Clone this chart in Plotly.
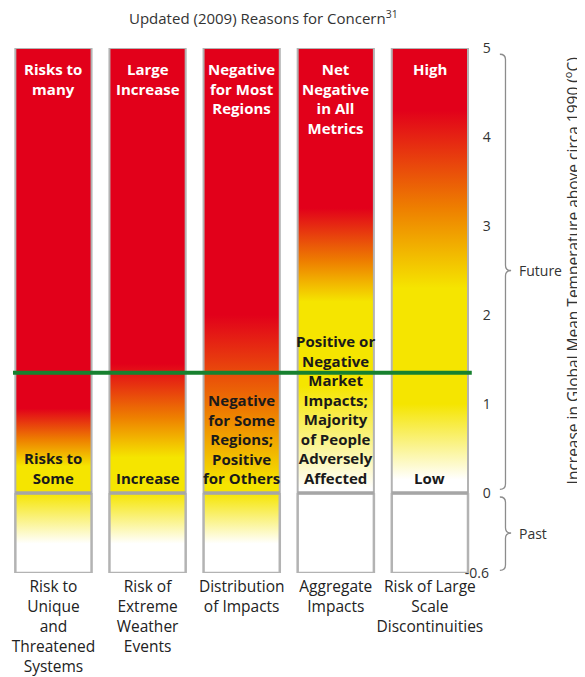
import plotly.graph_objects as go
from plotly.subplots import make_subplots

# ---------------- data ----------------
categories = [
    "Risk to<br>Unique<br>and<br>Threatened<br>Systems",
    "Risk of<br>Extreme<br>Weather<br>Events",
    "Distribution<br>of Impacts",
    "Aggregate<br>Impacts",
    "Risk of Large<br>Scale<br>Discontinuities",
]
top_labels = [
    "Risks to<br>many",
    "Large<br>Increase",
    "Negative<br>for Most<br>Regions",
    "Net<br>Negative<br>in All<br>Metrics",
    "High",
]
bottom_labels = [
    "Risks to<br>Some",
    "Increase",
    "Negative<br>for Some<br>Regions;<br>Positive<br>for Others",
    "Positive or<br>Negative<br>Market<br>Impacts;<br>Majority<br>of People<br>Adversely<br>Affected",
    "Low",
]

future_range = [0, 5]
past_range = [-0.6, 0]
future_ticks = [0, 1, 2, 3, 4, 5]
past_ticks = [-0.6]

# ember transition temperatures (deg C above 1990) per column
white_until = [None, None, None, 0.05, 0.15]
yellow_from = [0.0, 0.0, 0.0, 1.2, 1.0]
yellow_until = [0.3, 0.4, 0.1, 2.15, 2.3]
orange_at = [0.6, 0.85, 0.9, 2.6, 3.2]
red_from = [0.95, 1.45, 2.0, 3.2, 4.3]
past_white_below = [-0.38, -0.38, -0.38, None, None]

current_warming = 1.35

# ---------------- styles ----------------
W, Y, O, R = "#ffffff", "#f5e500", "#ee7f00", "#e2001a"
GRAY = "#b3b3b3"
SEP = "#a6a6a6"
GREEN = "#17812f"
FONT = "Open Sans"
HALF = 0.405
PAST_FRAC = 80 / 525

fig = make_subplots(rows=2, cols=1, shared_xaxes=True, vertical_spacing=0,
                    row_heights=[445, 80])


def norm_scale(stops, lo, hi):
    out = []
    for t, c in stops:
        p = (t - lo) / (hi - lo)
        p = min(max(p, 0.0), 1.0)
        if out and p <= out[-1][0]:
            p = out[-1][0]
            if out[-1][1] == c:
                continue
        out.append([p, c])
    if out[0][0] > 0:
        out.insert(0, [0.0, out[0][1]])
    if out[-1][0] < 1:
        out.append([1.0, out[-1][1]])
    return out


for i in range(len(categories)):
    x0, x1 = i - HALF, i + HALF
    # future ember
    stops = []
    if white_until[i] is not None:
        stops += [(future_range[0], W), (white_until[i], W)]
    stops += [(yellow_from[i], Y), (yellow_until[i], Y), (orange_at[i], O),
              (red_from[i], R), (future_range[1], R)]
    cs = norm_scale(stops, future_range[0], future_range[1])
    fig.add_trace(go.Scatter(
        x=[x0, x1, x1, x0, x0],
        y=[future_range[0], future_range[0], future_range[1], future_range[1], future_range[0]],
        mode="lines", fill="toself",
        fillgradient=dict(type="vertical", colorscale=cs,
                          start=future_range[0], stop=future_range[1]),
        line=dict(color=GRAY, width=2), hoverinfo="skip", showlegend=False,
    ), row=1, col=1)
    # past ember
    if past_white_below[i] is not None:
        pstops = [(past_range[0], W), (past_white_below[i], W), (past_range[1], Y)]
    else:
        pstops = [(past_range[0], W), (past_range[1], W)]
    pcs = norm_scale(pstops, past_range[0], past_range[1])
    fig.add_trace(go.Scatter(
        x=[x0, x1, x1, x0, x0],
        y=[past_range[0], past_range[0], past_range[1], past_range[1], past_range[0]],
        mode="lines", fill="toself",
        fillgradient=dict(type="vertical", colorscale=pcs,
                          start=past_range[0], stop=past_range[1]),
        line=dict(color=GRAY, width=2.5), hoverinfo="skip", showlegend=False,
    ), row=2, col=1)
    # separator at 0
    fig.add_shape(type="line", xref="x", yref="paper", x0=x0, x1=x1,
                  y0=PAST_FRAC, y1=PAST_FRAC, line=dict(color=SEP, width=3.5))
    # labels
    fig.add_annotation(x=i, y=4.90, xref="x", yref="y", text=top_labels[i],
                       showarrow=False, yanchor="top",
                       font=dict(family=FONT, size=15, color="white", weight="bold"))
    fig.add_annotation(x=i, y=0.03, xref="x", yref="y", text=bottom_labels[i],
                       showarrow=False, yanchor="bottom",
                       font=dict(family=FONT, size=15, color="#1a1a1a", weight="bold"))

# current warming line
fig.add_shape(type="line", xref="x", yref="y", x0=-HALF - 0.025,
              x1=len(categories) - 1 + HALF + 0.04,
              y0=current_warming, y1=current_warming,
              line=dict(color=GREEN, width=4))


# braces
def brace(xp, y0, y1, ym, c, yref):
    dx = 0.012
    path = (f"M {xp-dx},{y1} Q {xp},{y1} {xp},{y1-c} L {xp},{ym+c} "
            f"Q {xp},{ym} {xp+dx},{ym} Q {xp},{ym} {xp},{ym-c} "
            f"L {xp},{y0+c} Q {xp},{y0} {xp-dx},{y0}")
    fig.add_shape(type="path", path=path, xref="paper", yref=yref,
                  line=dict(color="#8c8c8c", width=1.3))


brace(1.063, 0.04, 4.93, 2.5, 0.06, "y")
brace(1.063, -0.58, -0.03, -0.3, 0.04, "y2")
fig.add_annotation(x=1.0886, y=2.5, xref="paper", yref="y", text="Future",
                   showarrow=False, xanchor="left", yanchor="middle",
                   font=dict(family=FONT, size=14, color="#333"))
fig.add_annotation(x=1.0886, y=-0.3, xref="paper", yref="y2", text="Past",
                   showarrow=False, xanchor="left", yanchor="middle",
                   font=dict(family=FONT, size=14, color="#333"))
fig.add_annotation(x=1.205, y=2.5, xref="paper", yref="y",
                   text="Increase in Global Mean Temperature above circa 1990 (<sup>o</sup>C)",
                   showarrow=False, textangle=-90, xanchor="center", yanchor="middle",
                   font=dict(family=FONT, size=15.5, color="#333"))
fig.add_annotation(x=0.546, y=1.059, xref="paper", yref="paper",
                   text="Updated (2009) Reasons for Concern<sup>31</sup>",
                   showarrow=False, xanchor="center", yanchor="middle",
                   font=dict(family=FONT, size=15, color="#333"))

fig.update_xaxes(range=[-0.483, 4.49], showgrid=False,
                 zeroline=False, showline=False, ticks="", automargin=False)
fig.update_xaxes(tickvals=list(range(len(categories))), ticktext=categories,
                 tickangle=0, ticklabeloverflow="allow", ticklabelstandoff=2,
                 tickfont=dict(family=FONT, size=15.5, color="#222"), row=2, col=1)
fig.update_yaxes(side="right", showgrid=False, zeroline=False, showline=False,
                 ticks="outside", ticklen=3, tickcolor="rgba(0,0,0,0)",
                 automargin=False,
                 tickfont=dict(family=FONT, size=14, color="#333"))
fig.update_yaxes(range=future_range, tickvals=future_ticks, row=1, col=1)
fig.update_yaxes(range=past_range, tickvals=past_ticks,
                 ticktext=[str(v) for v in past_ticks], ticklabelstandoff=-18,
                 row=2, col=1)

fig.update_layout(width=585, height=677, margin=dict(l=0, r=116.5, t=40, b=112),
                  paper_bgcolor="white", plot_bgcolor="white",
                  font=dict(family=FONT))

fig.write_html("out.html")
